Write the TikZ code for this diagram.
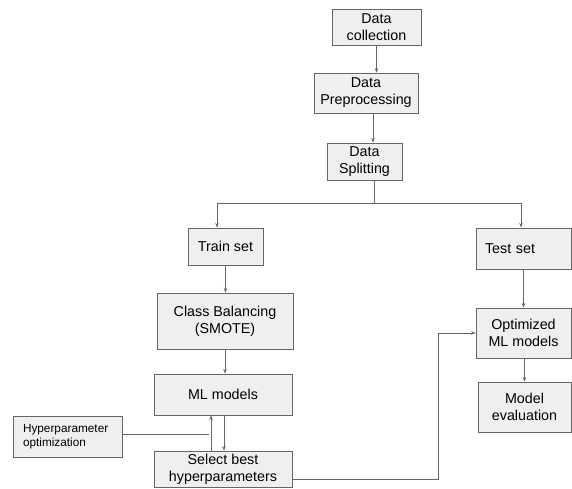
\documentclass[tikz,border=0pt]{standalone}
\usepackage{fontspec}
\setmainfont{Liberation Sans}
\usetikzlibrary{arrows.meta}
\definecolor{boxfill}{HTML}{EFEFEF}
\definecolor{boxline}{HTML}{666666}
\begin{document}
\begin{tikzpicture}[x=1pt, y=-1pt, >={Stealth[length=4.5pt,width=3.5pt]},
  every node/.style={font=\fontsize{14.3}{17}\selectfont},
  stage/.style={draw=boxline, fill=boxfill, line width=0.9pt, align=center,
    inner xsep=4pt, inner ysep=2pt},
  link/.style={draw=boxline, line width=0.9pt}]
  \useasboundingbox (0,0) rectangle (572,489);
  % pipeline boxes
  \node[stage, minimum width=89, minimum height=36] (collect) at (376.5,27) {Data\\collection};
  \node[stage, minimum width=104, minimum height=40] (preproc) at (366,93) {Data\\Preprocessing};
  \node[stage, minimum width=75, minimum height=37] (split) at (364.5,161.5) {Data\\Splitting};
  \node[stage, minimum width=75, minimum height=37] (train) at (225.5,246.5) {Train set};
  \node[stage, minimum width=95, minimum height=41, text width=77, align=left] (test) at (523.5,248.5) {Test set};
  \node[stage, minimum width=136, minimum height=56] (balance) at (225,321) {Class Balancing\\(SMOTE)};
  \node[stage, minimum width=138, minimum height=41] (ml) at (223,394.5) {ML models};
  \node[stage, minimum width=109, minimum height=41, text width=89, align=left,
    font=\fontsize{11.8}{14.5}\selectfont] (hyper) at (67.5,436.5) {Hyperparameter\\optimization};
  \node[stage, minimum width=138, minimum height=36] (select) at (223,469) {Select best\\hyperparameters};
  \node[stage, minimum width=95, minimum height=50] (optim) at (523.5,333) {Optimized\\ML models};
  \node[stage, minimum width=93, minimum height=50] (evalm) at (524.5,407) {Model\\evaluation};
  % split into train and test
  \coordinate (fork) at (374,203);
  \coordinate (trainfork) at (217,203);
  \coordinate (testfork) at (521,203);
  \coordinate (bend) at (438,333);
  % connectors
  \draw[link,->] (collect.south) -- (collect.south |- preproc.north);
  \draw[link,->] ([xshift=7pt]preproc.south) -- ([xshift=7pt]preproc.south |- split.north);
  \draw[link] (fork |- split.south) -- (fork);
  \draw[link] (trainfork) -- (testfork);
  \draw[link,->] (trainfork) -- (trainfork |- train.north);
  \draw[link,->] (testfork) -- (testfork |- test.north);
  \draw[link,->] (train.south) -- (train.south |- balance.north);
  \draw[link,->] (balance.south) -- (balance.south |- ml.north);
  \draw[link,->] ([xshift=1pt]ml.south) -- ([xshift=1pt]ml.south |- select.north);
  \draw[link,->] ([xshift=-12pt]select.north) -- ([xshift=-12pt]ml.south);
  \draw[link] ([yshift=2.5pt]hyper.east) -- ++(87,0);
  \draw[link,->] ([yshift=-10pt]select.east) -| (bend) -- (optim.west);
  \draw[link,->] (test.south) -- (optim.north);
  \draw[link,->] (evalm.north |- optim.south) -- (evalm.north);
\end{tikzpicture}
\end{document}
